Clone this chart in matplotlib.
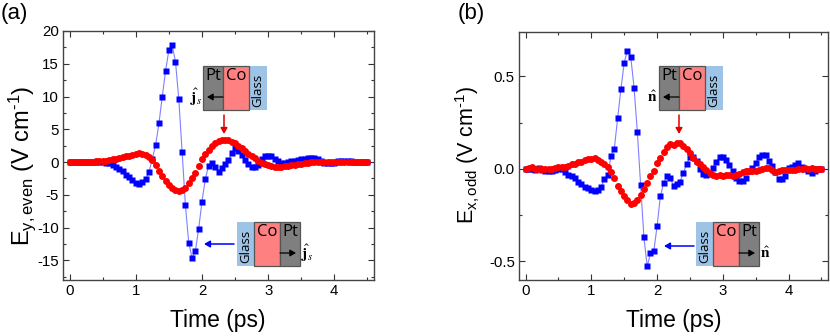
import numpy as np
import matplotlib
matplotlib.use("Agg")
import matplotlib.pyplot as plt
from matplotlib.patches import Rectangle

plt.rcParams["font.family"] = ["Liberation Sans", "DejaVu Sans"]
plt.rcParams["mathtext.fontset"] = "custom"
plt.rcParams["mathtext.rm"] = "Liberation Sans"
plt.rcParams["mathtext.it"] = "Liberation Sans"
plt.rcParams["mathtext.bf"] = "Liberation Sans:bold"

ANCHO, ALTO = 830, 336

tiempo = np.arange(91) * 0.05

even_azul = [
    0, 0, 0, 0, 0, 0, 0, 0, 0, -0.02,
    -0.05, -0.08, -0.2, -0.4, -0.7, -1.0, -1.4, -1.9, -2.3, -2.8,
    -3.2, -3.3, -3.1, -2.6, -1.5, 0.5, 2.6, 5.9, 10.0, 13.9,
    17.1, 17.8, 15.3, 9.6, 1.6, -6.6, -12.3, -14.6, -13.6, -10.2,
    -6.05, -2.6, -0.6, -0.15, -0.7, -1.5, -0.9, -0.3, 0.3, 1.4,
    2.1, 1.7, 1.1, 0.3, -0.3, -0.7, -0.7, -0.4, 0.4, 0.9,
    1.0, 0.9, 0.5, 0.1, -0.1, -0.1, 0, 0.1, 0.2, 0.3,
    0.4, 0.5, 0.6, 0.65, 0.55, 0.4, 0.1, -0.1, -0.2, -0.2,
    -0.1, 0.1, 0.2, 0.2, 0.2, 0.1, 0, -0.05, 0, 0, 0,
]
even_rojo = [
    0, 0, 0.01, 0.02, 0.03, 0.04, 0.06, 0.08, 0.1, 0.13,
    0.17, 0.22, 0.3, 0.4, 0.5, 0.62, 0.72, 0.85, 0.98, 1.12,
    1.3, 1.4, 1.3, 1.1, 0.8, 0.25, -0.5, -1.3, -2.1, -2.9,
    -3.5, -4.0, -4.3, -4.45, -4.3, -3.9, -3.2, -2.4, -1.6, -0.6,
    0.4, 1.2, 1.9, 2.5, 2.9, 3.2, 3.35, 3.4, 3.3, 3.1,
    2.85, 2.5, 2.1, 1.7, 1.3, 0.9, 0.55, 0.2, -0.1, -0.35,
    -0.5, -0.6, -0.68, -0.7, -0.7, -0.65, -0.6, -0.5, -0.42, -0.32,
    -0.24, -0.15, -0.08, 0, 0.05, 0.08, 0.08, 0.07, 0.05, 0.03,
    0.02, 0.02, 0.02, 0.02, 0.01, 0, 0, 0, 0, 0, 0,
]
odd_azul = [
    0, 0, 0, -0.005, 0.005, -0.005, -0.01, -0.01, -0.01, -0.005,
    0, 0.002, -0.015, -0.03, -0.04, -0.05, -0.068, -0.08, -0.095, -0.105,
    -0.115, -0.118, -0.112, -0.096, -0.054, -0.032, 0.072, 0.11, 0.274, 0.43,
    0.575, 0.64, 0.605, 0.44, 0.2, -0.086, -0.37, -0.526, -0.456, -0.445,
    -0.31, -0.148, -0.076, -0.04, -0.05, -0.09, -0.083, -0.069, -0.02, 0.025,
    0.067, 0.067, 0.045, 0, -0.027, -0.032, -0.027, 0.005, 0.04, 0.062,
    0.062, 0.05, 0.02, -0.01, -0.05, -0.065, -0.065, -0.05, -0.01, 0.005,
    0.03, 0.065, 0.073, 0.073, 0.043, 0.016, -0.016, -0.054, -0.054, -0.038,
    0.005, 0.01, 0.02, 0.03, 0.01, 0, -0.01, -0.02, -0.01, 0, 0,
]
odd_rojo = [
    0, 0.005, 0.008, 0.002, -0.002, 0, 0, 0.002, 0, 0.005,
    0.012, 0.012, 0.008, 0.018, 0.025, 0.028, 0.035, 0.04, 0.048, 0.055,
    0.055, 0.058, 0.05, 0.04, 0.028, 0.012, -0.018, -0.05, -0.09, -0.12,
    -0.144, -0.17, -0.19, -0.185, -0.168, -0.14, -0.11, -0.076, -0.04, -0.01,
    0.03, 0.06, 0.094, 0.118, 0.135, 0.132, 0.14, 0.14, 0.125, 0.11,
    0.085, 0.058, 0.04, 0.025, 0.012, -0.005, -0.02, -0.03, -0.036, -0.03,
    -0.036, -0.035, -0.032, -0.038, -0.03, -0.025, -0.018, -0.012, -0.012, -0.01,
    -0.01, -0.005, 0.002, 0.004, 0.004, -0.005, -0.015, -0.012, -0.005, -0.008,
    -0.003, -0.005, -0.008, 0, 0.002, 0.005, 0.002, 0.003, 0, 0.002, 0,
]


def px(x, y):
    return x / ANCHO, 1 - y / ALTO


def caja_eje(izq, der, arriba, abajo):
    return [izq / ANCHO, 1 - abajo / ALTO, (der - izq) / ANCHO, (abajo - arriba) / ALTO]


def rect(fig, x0, y0, x1, y1, color, borde=None):
    fig.add_artist(Rectangle(px(x0, y1), (x1 - x0) / ANCHO, (y1 - y0) / ALTO,
                             transform=fig.transFigure, facecolor=color,
                             edgecolor=borde if borde else "none", linewidth=0.9, zorder=5))


def flecha(fig, ini, fin, color, ancho=1.1):
    fig.add_artist(plt.Annotation("", xy=px(*fin), xytext=px(*ini), xycoords="figure fraction",
                                  textcoords="figure fraction", zorder=6,
                                  arrowprops=dict(arrowstyle="-|>,head_width=0.2,head_length=0.35",
                                                  color=color, lw=ancho, shrinkA=0, shrinkB=0)))


def etiqueta(fig, x, y, texto, tam, rot=0, **kw):
    fig.text(*px(x, y), texto, fontsize=tam, rotation=rot, ha="center", va="center",
             zorder=7, **kw)


def capas(fig, x, y, invertido, vector, x_vector):
    # invertido: Glass/Co/Pt, si no Pt/Co/Glass
    f = "Open Sans"
    alto = 44
    if not invertido:
        rect(fig, x + 46, y, x + 64, y + alto, "#9dc3e6")
        rect(fig, x, y, x + 20, y + alto, "#7f7f7f", "#555555")
        rect(fig, x + 20, y, x + 46, y + alto, "#ff8080", "#555555")
        etiqueta(fig, x + 10, y + 10, "Pt", 12, family=f)
        etiqueta(fig, x + 33, y + 10, "Co", 12, family=f)
        etiqueta(fig, x + 55, y + 24, "Glass", 9.5, rot=90, family=f)
        flecha(fig, (x + 20, y + 31), (x + 4, y + 31), "black", 0.9)
    else:
        rect(fig, x, y, x + 17, y + alto, "#9dc3e6")
        rect(fig, x + 17, y, x + 43, y + alto, "#ff8080", "#555555")
        rect(fig, x + 43, y, x + 63, y + alto, "#7f7f7f", "#555555")
        etiqueta(fig, x + 9, y + 24, "Glass", 9.5, rot=90, family=f)
        etiqueta(fig, x + 30, y + 10, "Co", 12, family=f)
        etiqueta(fig, x + 53, y + 10, "Pt", 12, family=f)
        flecha(fig, (x + 43, y + 31), (x + 59, y + 31), "black", 0.9)
    etiqueta(fig, x_vector, y + 31, vector, 11, math_fontfamily="stix")


def panel(fig, caja, azul, rojo, ylim, yticks, ymenor, yfmt):
    ax = fig.add_axes(caja)
    ax.plot(tiempo, azul, "-", color="#8080ff", lw=0.8, zorder=2)
    ax.plot(tiempo, azul, "s", color="#0000ff", ms=3.7, mec="none", zorder=3)
    ax.plot(tiempo, rojo, "o", color="#ff0000", ms=5, mec="none", zorder=4)
    ax.set_xlim(-0.1, 4.6)
    ax.set_ylim(*ylim)
    ax.set_xticks([0, 1, 2, 3, 4])
    ax.set_xticks(np.arange(0.5, 4.6, 1), minor=True)
    ax.set_yticks(yticks)
    ax.set_yticks(ymenor, minor=True)
    ax.set_yticklabels([yfmt % v for v in yticks])
    ax.tick_params(which="major", direction="in", length=4, width=0.8, top=True, right=True,
                   labelsize=10.8, color="#333333", pad=3)
    ax.tick_params(which="minor", direction="in", length=2.3, width=0.8, top=True, right=True,
                   color="#333333")
    for s in ax.spines.values():
        s.set_linewidth(1.0)
        s.set_color("#444444")
    return ax


def main():
    fig = plt.figure(figsize=(ANCHO / 100, ALTO / 100), dpi=100)

    panel(fig, caja_eje(63, 374, 31, 280), even_azul, even_rojo, (-18, 20),
          [-15, -10, -5, 0, 5, 10, 15, 20], np.arange(-17.5, 20, 5), "%d")
    panel(fig, caja_eje(519, 828, 32, 280), odd_azul, odd_rojo, (-0.6, 0.74),
          [-0.5, 0.0, 0.5], [-0.25, 0.25], "%.1f")

    fig.text(*px(218, 321), "Time (ps)", fontsize=16.5, ha="center", va="center")
    fig.text(*px(674, 321), "Time (ps)", fontsize=16.5, ha="center", va="center")
    fig.text(*px(1, 13), "(a)", fontsize=16, ha="left", va="center")
    fig.text(*px(458, 13), "(b)", fontsize=16, ha="left", va="center")
    fig.text(*px(22, 166), "E$_{\\mathrm{y,even}}$ (V cm$^{\\mathrm{\u2010 1}}$)", fontsize=17,
             rotation=90, ha="center", va="center")
    fig.text(*px(468, 155), "E$_{\\mathrm{x,odd}}$ (V cm$^{\\mathrm{\u2010 1}}$)", fontsize=15.5,
             rotation=90, ha="center", va="center")

    capas(fig, 203, 66, False, r"$\hat{\mathbf{j}}_{s}$", 196)
    capas(fig, 237, 222, True, r"$\hat{\mathbf{j}}_{s}$", 307)
    capas(fig, 659, 66, False, r"$\hat{\mathbf{n}}$", 652)
    capas(fig, 696, 222, True, r"$\hat{\mathbf{n}}$", 765)

    flecha(fig, (224, 115), (224, 134), "#e00000")
    flecha(fig, (234, 244), (204, 244), "#0000ff")
    flecha(fig, (679, 115), (679, 134), "#e00000")
    flecha(fig, (694, 246), (664, 246), "#0000ff")

    fig.savefig("out.png", dpi=100)


if __name__ == "__main__":
    main()
